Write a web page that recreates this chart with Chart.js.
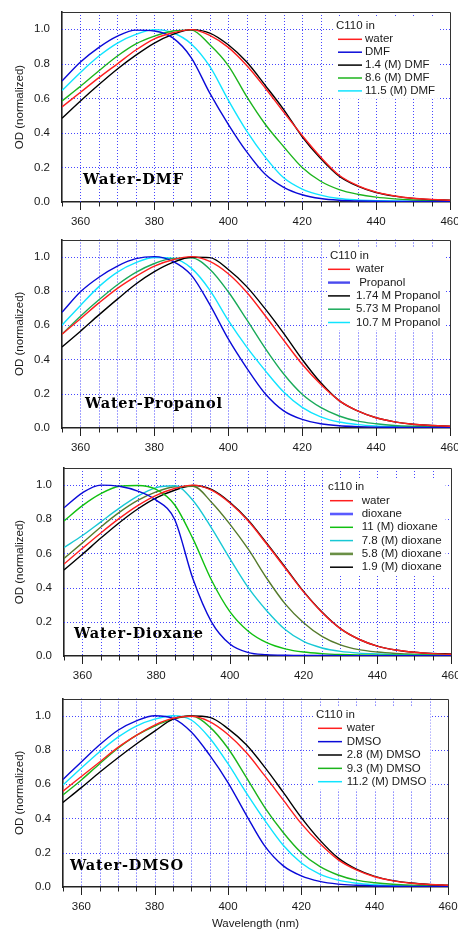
<!DOCTYPE html>
<html><head><meta charset="utf-8">
<script src="https://cdn.jsdelivr.net/npm/chart.js@4.4.1/dist/chart.umd.min.js"></script>
<style>
html,body{margin:0;padding:0;background:#fff;}
body{width:458px;height:930px;position:relative;overflow:hidden;}
canvas{position:absolute;left:0;}
</style></head><body>
<canvas id="c1" width="458" height="230" style="top:0px"></canvas>
<canvas id="c2" width="458" height="230" style="top:230px"></canvas>
<canvas id="c3" width="458" height="230" style="top:460px"></canvas>
<canvas id="c4" width="458" height="241" style="top:690px"></canvas>
<script>
// ---------- data ----------
const wavelengths = [355,360,365,370,375,380,385,390,395,400,405,410,415,420,425,430,435,440,445,450,455,460];
const xTickValues = [355,360,365,370,375,380,385,390,395,400,405,410,415,420,425,430,435,440,445,450,455,460];
const xTickLabels = [360,380,400,420,440,460];
const yTickValues = [0,0.2,0.4,0.6,0.8,1.0];

// Water-DMF
const dmfLabels = ['water','DMF','1.4 (M) DMF','8.6 (M) DMF','11.5 (M) DMF'];
const dmfWater = [.55,.635,.72,.80,.88,.945,.98,.998,.965,.895,.79,.66,.52,.385,.26,.155,.095,.057,.035,.022,.015,.01];
const dmfPure  = [.70,.81,.895,.96,.995,.99,.95,.835,.63,.45,.29,.16,.085,.042,.02,.01,.006,.004,.003,.003,.003,.003];
const dmf1_4   = [.485,.585,.68,.77,.85,.92,.97,.998,.978,.91,.81,.675,.535,.378,.252,.15,.092,.055,.034,.021,.014,.01];
const dmf8_6   = [.585,.67,.76,.845,.915,.96,.99,.995,.91,.79,.61,.45,.32,.20,.12,.072,.045,.028,.018,.012,.008,.006];
const dmf11_5  = [.645,.75,.845,.92,.97,.998,.98,.915,.785,.59,.41,.26,.14,.075,.04,.02,.012,.008,.006,.005,.005,.005];

// Water-Propanol
const propLabels = ['water',' Propanol','1.74 M Propanol','5.73 M Propanol','10.7 M Propanol'];
const propWater = [.547,.638,.73,.815,.885,.945,.982,1.0,.972,.9,.792,.655,.512,.372,.255,.16,.10,.06,.036,.022,.015,.01];
const propPure  = [.675,.795,.88,.945,.988,1.0,.973,.892,.72,.52,.35,.20,.10,.05,.025,.013,.008,.005,.004,.003,.003,.003];
const prop1_74  = [.473,.565,.66,.752,.84,.912,.966,.996,.994,.925,.825,.695,.552,.40,.265,.16,.10,.06,.036,.022,.015,.01];
const prop5_73  = [.547,.652,.748,.836,.908,.96,.99,.993,.927,.795,.632,.465,.315,.197,.12,.07,.04,.025,.015,.01,.007,.005];
const prop10_7  = [.60,.715,.825,.91,.965,.995,.99,.933,.805,.628,.472,.335,.21,.12,.065,.035,.02,.012,.008,.005,.004,.004];

// Water-Dioxane
const dioxLabels = ['water','dioxane','11 (M) dioxane','7.8 (M) dioxane','5.8 (M) dioxane','1.9 (M) dioxane'];
const dioxWater = [.538,.63,.72,.805,.88,.94,.98,1.0,.97,.895,.79,.655,.515,.375,.255,.16,.098,.058,.035,.022,.014,.01];
const dioxPure  = [.867,.955,1.0,.993,.965,.912,.80,.45,.20,.07,.02,.008,.004,.003,.003,.002,.002,.002,.002,.002,.002,.002];
const diox11    = [.79,.88,.95,.993,.998,.975,.885,.685,.445,.26,.145,.078,.042,.023,.014,.009,.006,.005,.005,.004,.004,.004];
const diox7_8   = [.635,.705,.785,.865,.935,.985,.996,.91,.75,.57,.40,.265,.155,.085,.047,.027,.017,.012,.008,.006,.005,.005];
const diox5_8   = [.571,.662,.755,.84,.91,.96,.99,.993,.90,.772,.625,.455,.305,.195,.115,.065,.037,.023,.015,.01,.008,.006];
const diox1_9   = [.503,.595,.69,.78,.86,.925,.97,.998,.975,.90,.795,.66,.52,.378,.257,.16,.098,.058,.035,.022,.015,.012];

// Water-DMSO
const dmsoLabels = ['water','DMSO','2.8 (M) DMSO','9.3 (M) DMSO','11.2 (M) DMSO'];
const dmsoWater = [.56,.645,.73,.815,.885,.945,.985,.997,.965,.89,.785,.65,.51,.37,.255,.16,.10,.06,.036,.022,.015,.01];
const dmsoPure  = [.628,.73,.83,.915,.97,1.0,.985,.905,.77,.61,.42,.24,.125,.065,.033,.017,.01,.006,.004,.003,.003,.003];
const dmso2_8   = [.494,.58,.67,.755,.835,.91,.98,.998,.99,.925,.83,.70,.555,.405,.275,.17,.104,.062,.037,.023,.015,.01];
const dmso9_3   = [.537,.625,.72,.81,.885,.94,.98,.998,.935,.81,.64,.465,.32,.20,.12,.07,.04,.025,.016,.011,.008,.006];
const dmso11_2  = [.595,.695,.79,.875,.94,.98,1.0,.975,.87,.72,.55,.39,.245,.14,.075,.04,.022,.013,.008,.006,.005,.004];

// ---------- styling ----------
const SANS = '"Liberation Sans", Arial, Helvetica, sans-serif';
const TXT = '#1a1a1a';

const decorPlugin = {
  id: 'decor',
  beforeDatasetsDraw(chart) {
    const {ctx, chartArea: a, scales: {x, y}} = chart;
    ctx.save();
    ctx.strokeStyle = 'rgba(50,50,255,0.9)';
    ctx.lineWidth = 1;
    ctx.setLineDash([1, 2]);
    x.ticks.forEach(t => {
      const px = Math.round(x.getPixelForValue(t.value)) + 0.5;
      if (px < a.left + 2 || px > a.right - 2) return;
      ctx.beginPath(); ctx.moveTo(px, a.top); ctx.lineTo(px, a.bottom); ctx.stroke();
    });
    y.ticks.forEach(t => {
      const py = Math.round(y.getPixelForValue(t.value)) + 0.5;
      if (py > a.bottom - 2) return;
      ctx.beginPath(); ctx.moveTo(a.left, py); ctx.lineTo(a.right, py); ctx.stroke();
    });
    ctx.restore();
  },
  afterDatasetsDraw(chart, args, o) {
    const {ctx, chartArea: a, scales: {x}} = chart;
    ctx.save();
    // legend
    const L = o.legend;
    ctx.font = '11.5px ' + SANS;
    let maxW = ctx.measureText(L.title).width + L.titleX;
    chart.data.datasets.forEach(ds => { maxW = Math.max(maxW, L.textX + ctx.measureText(ds.label).width); });
    const nRows = chart.data.datasets.length;
    const bottomY = L.rowY + (nRows - 1) * L.step;
    ctx.fillStyle = '#fff';
    ctx.fillRect(L.titleX - 3, L.titleY - 8, maxW - L.titleX + 7, bottomY - L.titleY + 16);
    ctx.fillStyle = TXT; ctx.textBaseline = 'middle'; ctx.textAlign = 'left';
    ctx.fillText(L.title, L.titleX, L.titleY);
    chart.data.datasets.forEach((ds, i) => {
      const yy = L.rowY + i * L.step;
      ctx.strokeStyle = ds.legendColor || ds.borderColor;
      ctx.lineWidth = ds.legendWidth || 1.5;
      ctx.beginPath(); ctx.moveTo(L.lineX1, yy); ctx.lineTo(L.lineX2, yy); ctx.stroke();
      ctx.fillStyle = TXT;
      ctx.fillText(ds.label, L.textX, yy);
    });
    // top & right frame
    ctx.strokeStyle = '#333'; ctx.lineWidth = 1;
    ctx.beginPath();
    ctx.moveTo(a.left, Math.round(a.top) + 0.5); ctx.lineTo(Math.round(a.right) + 0.5, Math.round(a.top) + 0.5);
    ctx.lineTo(Math.round(a.right) + 0.5, a.bottom);
    ctx.stroke();
    // x tick marks
    ctx.strokeStyle = '#222'; ctx.lineWidth = 1;
    x.ticks.forEach(t => {
      const px = Math.round(x.getPixelForValue(t.value)) + 0.5;
      const len = xTickLabels.includes(t.value) ? 8 : 4.5;
      ctx.beginPath(); ctx.moveTo(px, a.bottom); ctx.lineTo(px, a.bottom + len); ctx.stroke();
    });
    // panel label
    const P = o.panel;
    ctx.fillStyle = '#000';
    ctx.font = 'bold 14.5px "DejaVu Serif", serif';
    const w = ctx.measureText(P.text).width;
    const ls = Math.max(0, (P.width - w) / (P.text.length - 1));
    if ('letterSpacing' in ctx) ctx.letterSpacing = ls.toFixed(2) + 'px';
    ctx.textBaseline = 'middle';
    ctx.fillText(P.text, P.x, P.y);
    ctx.restore();
  }
};

function makePanel(id, H, area, seriesList, labels, styles, legend, panel, xTitle) {
  const datasets = seriesList.map((vals, i) => ({
    label: labels[i],
    data: wavelengths.map((w, j) => ({x: w, y: vals[j]})),
    borderColor: styles[i].color,
    legendColor: styles[i].legendColor,
    legendWidth: styles[i].legendWidth,
    borderWidth: 1.4,
    pointRadius: 0,
    fill: false,
    cubicInterpolationMode: 'monotone'
  }));
  const tickFont = {family: SANS, size: 11.5};
  return new Chart(document.getElementById(id), {
    type: 'line',
    data: {datasets},
    options: {
      responsive: false, animation: false, devicePixelRatio: 1,
      layout: {padding: {top: area.top, right: 458 - area.right, left: 0, bottom: 0}},
      plugins: {legend: {display: false}, tooltip: {enabled: false},
        decor: {legend, panel}},
      scales: {
        x: {
          type: 'linear', min: 355, max: 460,
          afterBuildTicks: s => { s.ticks = xTickValues.map(v => ({value: v})); },
          afterFit: s => { s.height = H - area.bottom; s.paddingLeft = 0; s.paddingRight = 0; },
          grid: {display: false, drawTicks: false},
          border: {display: true, color: '#222', width: 1.6},
          ticks: {autoSkip: false, maxRotation: 0, minRotation: 0, padding: 13, color: TXT, font: tickFont,
            callback: v => xTickLabels.includes(v) ? String(v) : ''},
          title: xTitle ? {display: true, text: xTitle, color: TXT, font: {family: SANS, size: 11.5}, padding: {top: 0, bottom: 0}} : {display: false}
        },
        y: {
          type: 'linear', min: 0, max: 1.1,
          afterBuildTicks: s => { s.ticks = yTickValues.map(v => ({value: v})); },
          afterFit: s => { s.width = area.left; s.paddingTop = 0; s.paddingBottom = 0; },
          grid: {display: false, drawTicks: false},
          border: {display: true, color: '#222', width: 1.6},
          ticks: {padding: 12, color: TXT, font: tickFont, callback: v => Number(v).toFixed(1)},
          title: {display: true, text: 'OD (normalized)', color: TXT, font: {family: SANS, size: 11.5}, padding: {top: 13, bottom: 0}}
        }
      }
    },
    plugins: [decorPlugin]
  });
}

const RED = '#ff1f1f', BLUE = '#0a0ad8', BLACK = '#000000';

makePanel('c1', 230, {top: 12, bottom: 202, left: 62, right: 450},
  [dmfWater, dmfPure, dmf1_4, dmf8_6, dmf11_5], dmfLabels,
  [{color: RED}, {color: BLUE}, {color: BLACK}, {color: '#1cb41c'}, {color: '#10e4ff'}],
  {title: 'C110 in', titleX: 336, titleY: 26, rowY: 39.3, step: 12.9, lineX1: 338, lineX2: 362, textX: 365},
  {text: 'Water-DMF', x: 83, y: 180, width: 100});

makePanel('c2', 230, {top: 9.5, bottom: 198, left: 62, right: 450},
  [propWater, propPure, prop1_74, prop5_73, prop10_7], propLabels,
  [{color: RED}, {color: BLUE, legendColor: '#4a4aee', legendWidth: 2.4}, {color: BLACK}, {color: '#1aaa5a'}, {color: '#10e4ff'}],
  {title: 'C110 in', titleX: 330, titleY: 26, rowY: 39.3, step: 13.3, lineX1: 328, lineX2: 350, textX: 356},
  {text: 'Water-Propanol', x: 85, y: 174, width: 137});

makePanel('c3', 230, {top: 8, bottom: 196, left: 64, right: 451},
  [dioxWater, dioxPure, diox11, diox7_8, diox5_8, diox1_9], dioxLabels,
  [{color: RED}, {color: BLUE, legendColor: '#5a5aff', legendWidth: 2.6}, {color: '#10c010'}, {color: '#18c8d4'}, {color: '#557a2c', legendColor: '#6a8f45', legendWidth: 2.6}, {color: BLACK}],
  {title: 'c110 in', titleX: 328, titleY: 26.7, rowY: 40.7, step: 13.3, lineX1: 330, lineX2: 353, textX: 361.7},
  {text: 'Water-Dioxane', x: 74, y: 174.3, width: 129});

makePanel('c4', 241, {top: 8.6, bottom: 197, left: 63, right: 448},
  [dmsoWater, dmsoPure, dmso2_8, dmso9_3, dmso11_2], dmsoLabels,
  [{color: RED}, {color: BLUE}, {color: BLACK}, {color: '#1cb41c'}, {color: '#10e4ff'}],
  {title: 'C110 in', titleX: 316, titleY: 25, rowY: 38.3, step: 13.35, lineX1: 318, lineX2: 342, textX: 346.7},
  {text: 'Water-DMSO', x: 70, y: 176.7, width: 113},
  'Wavelength (nm)');
</script>
</body></html>
